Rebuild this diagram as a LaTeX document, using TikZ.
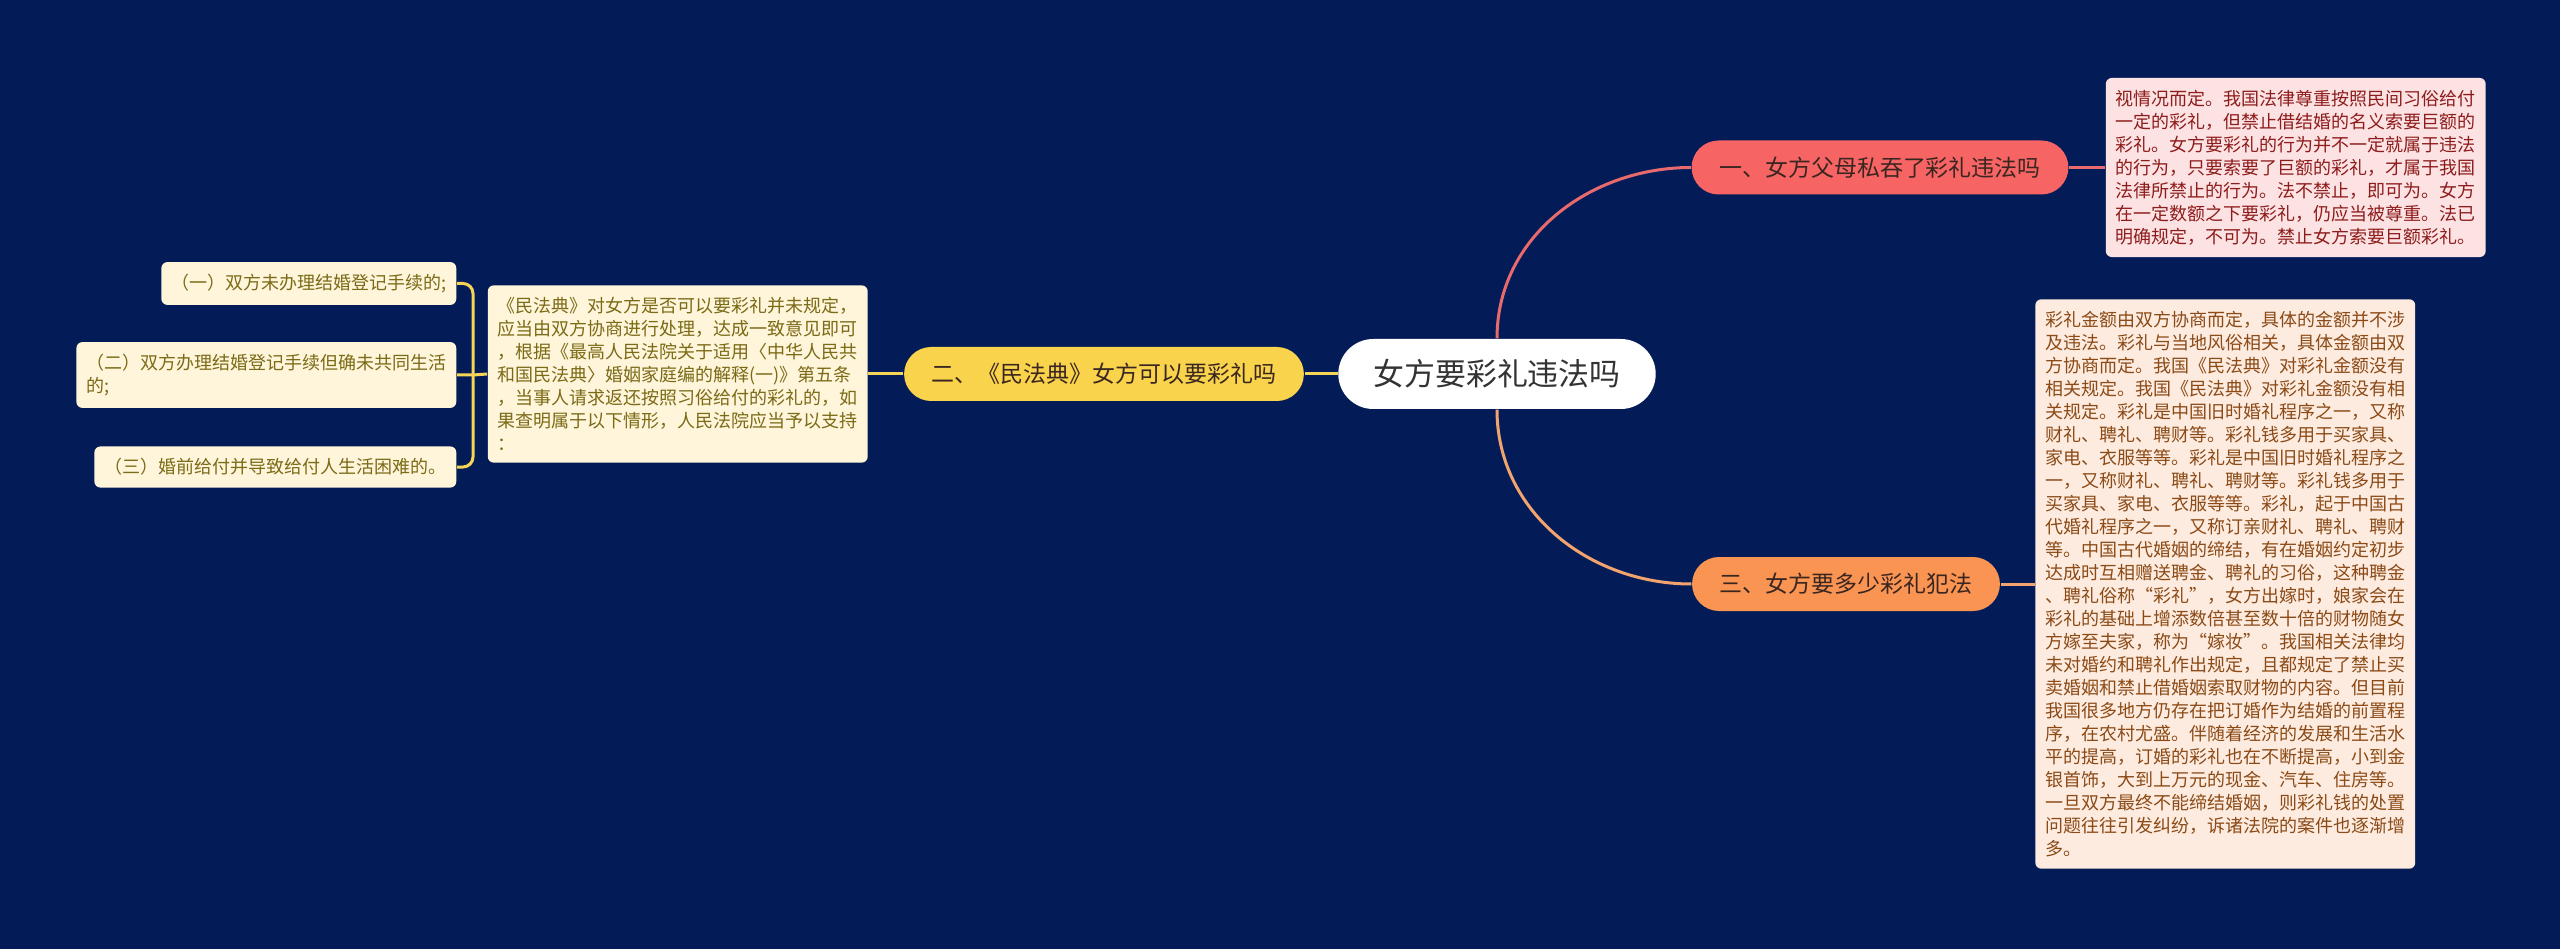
\documentclass[tikz,border=0pt]{standalone}
\usepackage{fontspec}
\setmainfont{Noto Sans CJK SC}
\usepackage{xcolor}
\usepackage{tikz}
\usetikzlibrary{positioning}
\definecolor{night}{HTML}{031C58}
\definecolor{rootink}{HTML}{333333}
\definecolor{coral}{HTML}{F76464}
\definecolor{coralline}{HTML}{E86A6C}
\definecolor{coralpale}{HTML}{FCE2E2}
\definecolor{coralink}{HTML}{8E1C1C}
\definecolor{apricot}{HTML}{FA9452}
\definecolor{apricotline}{HTML}{F2A46E}
\definecolor{apricotpale}{HTML}{FDEBDF}
\definecolor{apricotink}{HTML}{8B4A16}
\definecolor{mustard}{HTML}{F9D34B}
\definecolor{mustardline}{HTML}{F6D456}
\definecolor{mustardpale}{HTML}{FEF5DA}
\definecolor{mustardink}{HTML}{7B6A16}
\definecolor{branchink}{HTML}{3A2620}
\newcommand\rootfont{\fontsize{8.8pt}{10pt}\selectfont}
\newcommand\branchfont{\fontsize{6.54pt}{7.5pt}\selectfont}
\newcommand\detailfont{\fontsize{5.12pt}{6.54pt}\selectfont}
\tikzset{
  rootnode/.style={fill=white,text=rootink,rounded corners=3.5mm,
    minimum height=7mm,inner xsep=3.5mm,inner ysep=0pt,font=\rootfont},
  branch/.style={fill=#1,text=branchink,rounded corners=2.7mm,
    minimum height=5.4mm,inner xsep=2.75mm,inner ysep=0pt,font=\branchfont},
  detail/.style={fill=#1,rounded corners=0.6mm,inner xsep=1mm,
    inner ysep=1.2mm,align=left,font=\detailfont},
  link/.style={line width=0.3mm,draw=#1}
}

\begin{document}
\begin{tikzpicture}[x=0.1mm,y=-0.1mm]
  \fill[night] (0,0) rectangle (2560,949);
  % centre and the three topics
  \node[rootnode] (root) at (1497,374) {女方要彩礼违法吗};
  \node[branch=coral] (parents) at (1880,167.5) {一、女方父母私吞了彩礼违法吗};
  \node[branch=mustard,left=3.3mm of root] (civil) {二、《民法典》女方可以要彩礼吗};
  \node[branch=apricot] (amount) at (1846,584) {三、女方要多少彩礼犯法};
  % texts
  \node[detail=coralpale,text=coralink,right=3.6mm of parents] (parentsnote) {%
    视情况而定。我国法律尊重按照民间习俗给付\\
    一定的彩礼，但禁止借结婚的名义索要巨额的\\
    彩礼。女方要彩礼的行为并不一定就属于违法\\
    的行为，只要索要了巨额的彩礼，才属于我国\\
    法律所禁止的行为。法不禁止，即可为。女方\\
    在一定数额之下要彩礼，仍应当被尊重。法已\\
    明确规定，不可为。禁止女方索要巨额彩礼。};
  \node[detail=mustardpale,text=mustardink,left=3.5mm of civil] (civilnote) {%
    《民法典》对女方是否可以要彩礼并未规定，\\
    应当由双方协商进行处理，达成一致意见即可\\
    ，根据《最高人民法院关于适用〈中华人民共\\
    和国民法典〉婚姻家庭编的解释(一)》第五条\\
    ，当事人请求返还按照习俗给付的彩礼的，如\\
    果查明属于以下情形，人民法院应当予以支持\\
    ：};
  \node[detail=apricotpale,text=apricotink,right=3.4mm of amount] (amountnote) {%
    彩礼金额由双方协商而定，具体的金额并不涉\\
    及违法。彩礼与当地风俗相关，具体金额由双\\
    方协商而定。我国《民法典》对彩礼金额没有\\
    相关规定。我国《民法典》对彩礼金额没有相\\
    关规定。彩礼是中国旧时婚礼程序之一，又称\\
    财礼、聘礼、聘财等。彩礼钱多用于买家具、\\
    家电、衣服等等。彩礼是中国旧时婚礼程序之\\
    一，又称财礼、聘礼、聘财等。彩礼钱多用于\\
    买家具、家电、衣服等等。彩礼，起于中国古\\
    代婚礼程序之一，又称订亲财礼、聘礼、聘财\\
    等。中国古代婚姻的缔结，有在婚姻约定初步\\
    达成时互相赠送聘金、聘礼的习俗，这种聘金\\
    、聘礼俗称“彩礼”，女方出嫁时，娘家会在\\
    彩礼的基础上增添数倍甚至数十倍的财物随女\\
    方嫁至夫家，称为“嫁妆”。我国相关法律均\\
    未对婚约和聘礼作出规定，且都规定了禁止买\\
    卖婚姻和禁止借婚姻索取财物的内容。但目前\\
    我国很多地方仍存在把订婚作为结婚的前置程\\
    序，在农村尤盛。伴随着经济的发展和生活水\\
    平的提高，订婚的彩礼也在不断提高，小到金\\
    银首饰，大到上万元的现金、汽车、住房等。\\
    一旦双方最终不能缔结婚姻，则彩礼钱的处置\\
    问题往往引发纠纷，诉诸法院的案件也逐渐增\\
    多。};
  % the three cases
  \node[detail=mustardpale,text=mustardink,anchor=east] (caseone) at (457,283.5) {（一）双方未办理结婚登记手续的;};
  \node[detail=mustardpale,text=mustardink,anchor=east] (casetwo) at (457,375) {（二）双方办理结婚登记手续但确未共同生活\\的;};
  \node[detail=mustardpale,text=mustardink,anchor=east] (casethree) at (457,467) {（三）婚前给付并导致给付人生活困难的。};
  \coordinate (fork) at (473,375);
  % links
  \draw[link=coralline] (root.north) to[out=90,in=180] (parents.west);
  \draw[link=apricotline] (root.south) to[out=-90,in=180] (amount.west);
  \draw[link=mustardline] (root.west) -- (civil.east);
  \draw[link=coralline] (parents.east) -- (parentsnote.west);
  \draw[link=apricotline] (amount.east) -- (amountnote.west);
  \draw[link=mustardline] (civil.west) -- (civilnote.east);
  \draw[link=mustardline] (civilnote.west) -- (fork) -- (casetwo.east);
  \draw[link=mustardline,rounded corners=1mm] (caseone.east) -| (fork) |- (casethree.east);
\end{tikzpicture}
\end{document}
